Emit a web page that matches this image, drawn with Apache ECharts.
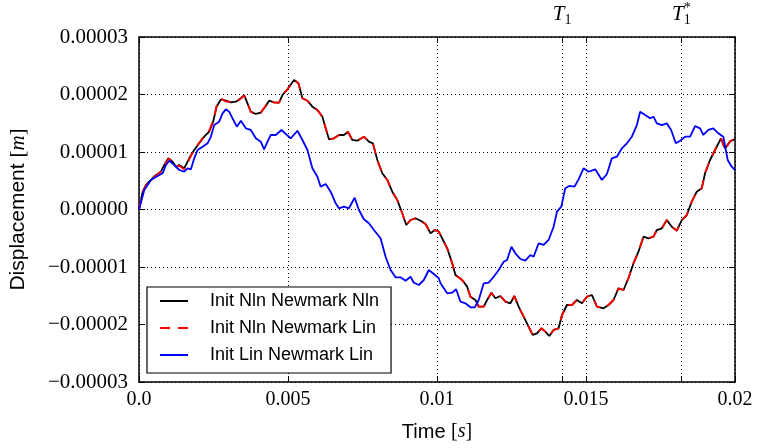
<!DOCTYPE html>
<html><head><meta charset="utf-8">
<script src="https://cdn.jsdelivr.net/npm/echarts@6/dist/echarts.min.js"></script>
<style>html,body{margin:0;padding:0;background:#fff}#c{width:759px;height:448px}</style>
</head><body><div id="c"></div>
<script>
// time in ms, displacement in 1e-5 m
const nlnNewmarkNln = [[0,0],[0.124,0.310],[0.235,0.426],[0.402,0.513],[0.570,0.600],[0.737,0.657],[0.848,0.774],[0.982,0.890],[1.129,0.831],[1.240,0.744],[1.350,0.774],[1.518,0.716],[1.685,0.890],[1.853,1.035],[2.020,1.151],[2.188,1.266],[2.355,1.353],[2.489,1.527],[2.603,1.788],[2.747,1.916],[2.915,1.892],[3.082,1.864],[3.250,1.875],[3.417,1.934],[3.528,1.991],[3.641,1.847],[3.752,1.701],[3.920,1.661],[4.087,1.683],[4.255,1.800],[4.365,1.892],[4.533,1.864],[4.700,1.857],[4.814,1.991],[4.981,2.090],[5.203,2.252],[5.350,2.195],[5.484,1.934],[5.652,1.892],[5.819,1.788],[5.987,1.730],[6.154,1.614],[6.265,1.412],[6.375,1.221],[6.543,1.238],[6.710,1.296],[6.878,1.296],[7.012,1.353],[7.159,1.209],[7.327,1.196],[7.548,1.266],[7.715,1.179],[7.849,1.151],[7.997,0.861],[8.164,0.630],[8.332,0.513],[8.499,0.310],[8.667,0.165],[8.834,-0.066],[8.968,-0.270],[9.112,-0.183],[9.280,-0.153],[9.447,-0.195],[9.615,-0.252],[9.782,-0.414],[9.926,-0.356],[10.060,-0.386],[10.342,-0.675],[10.509,-0.936],[10.620,-1.139],[10.844,-1.226],[11.012,-1.342],[11.122,-1.516],[11.290,-1.574],[11.400,-1.690],[11.568,-1.690],[11.682,-1.574],[11.826,-1.447],[11.960,-1.544],[12.127,-1.504],[12.295,-1.603],[12.462,-1.631],[12.596,-1.504],[12.740,-1.690],[12.908,-1.864],[13.075,-2.038],[13.209,-2.182],[13.357,-2.153],[13.501,-2.066],[13.635,-2.125],[13.769,-2.200],[13.913,-2.095],[14.080,-2.066],[14.194,-1.835],[14.361,-1.661],[14.529,-1.661],[14.696,-1.574],[14.864,-1.631],[15.031,-1.516],[15.199,-1.487],[15.366,-1.690],[15.588,-1.718],[15.755,-1.661],[15.923,-1.574],[16.090,-1.370],[16.258,-1.400],[16.425,-1.196],[16.593,-0.936],[16.760,-0.734],[16.928,-0.473],[17.095,-0.501],[17.263,-0.473],[17.377,-0.357],[17.544,-0.327],[17.712,-0.183],[17.879,-0.299],[18.047,-0.369],[18.214,-0.183],[18.382,-0.096],[18.549,0.136],[18.717,0.310],[18.884,0.369],[18.995,0.630],[19.162,0.861],[19.330,1.035],[19.531,1.238],[19.665,1.064],[19.832,1.179],[20.0,1.226]];

const nlnNewmarkLin = [[0,0],[0.124,0.305],[0.235,0.420],[0.402,0.513],[0.570,0.590],[0.737,0.660],[0.848,0.760],[0.982,0.880],[1.129,0.840],[1.240,0.750],[1.350,0.760],[1.518,0.700],[1.685,0.870],[1.853,1.050],[2.020,1.160],[2.188,1.280],[2.355,1.370],[2.489,1.540],[2.603,1.800],[2.747,1.930],[2.915,1.880],[3.082,1.870],[3.250,1.870],[3.417,1.930],[3.528,1.980],[3.641,1.850],[3.752,1.700],[3.920,1.650],[4.087,1.690],[4.255,1.810],[4.365,1.890],[4.533,1.860],[4.700,1.857],[4.814,1.991],[4.981,2.090],[5.203,2.252],[5.350,2.195],[5.484,1.934],[5.652,1.892],[5.819,1.788],[5.987,1.730],[6.154,1.614],[6.265,1.412],[6.375,1.221],[6.543,1.238],[6.710,1.296],[6.878,1.296],[7.012,1.353],[7.159,1.209],[7.327,1.196],[7.548,1.266],[7.715,1.179],[7.849,1.151],[7.997,0.861],[8.164,0.630],[8.332,0.513],[8.499,0.310],[8.667,0.165],[8.834,-0.066],[8.968,-0.270],[9.112,-0.183],[9.280,-0.153],[9.447,-0.195],[9.615,-0.252],[9.782,-0.414],[9.926,-0.356],[10.060,-0.386],[10.342,-0.675],[10.509,-0.936],[10.620,-1.139],[10.844,-1.226],[11.012,-1.342],[11.122,-1.516],[11.290,-1.574],[11.400,-1.690],[11.568,-1.690],[11.682,-1.574],[11.826,-1.447],[11.960,-1.544],[12.127,-1.504],[12.295,-1.603],[12.462,-1.631],[12.596,-1.504],[12.740,-1.690],[12.908,-1.864],[13.075,-2.038],[13.209,-2.182],[13.357,-2.153],[13.501,-2.066],[13.635,-2.125],[13.769,-2.200],[13.913,-2.095],[14.080,-2.066],[14.194,-1.835],[14.361,-1.661],[14.529,-1.661],[14.696,-1.574],[14.864,-1.631],[15.031,-1.516],[15.199,-1.487],[15.366,-1.690],[15.588,-1.718],[15.755,-1.661],[15.923,-1.574],[16.090,-1.370],[16.258,-1.400],[16.425,-1.196],[16.593,-0.936],[16.760,-0.734],[16.928,-0.473],[17.095,-0.501],[17.263,-0.473],[17.377,-0.357],[17.544,-0.327],[17.712,-0.183],[17.879,-0.299],[18.047,-0.369],[18.214,-0.183],[18.382,-0.096],[18.549,0.136],[18.717,0.310],[18.884,0.369],[18.995,0.630],[19.162,0.861],[19.330,1.035],[19.531,1.238],[19.665,1.030],[19.832,1.190],[20.0,1.226]];

const linNewmarkLin = [[0,0],[0.178,0.339],[0.402,0.513],[0.626,0.583],[0.794,0.630],[0.905,0.774],[1.015,0.849],[1.182,0.774],[1.350,0.687],[1.518,0.657],[1.631,0.716],[1.742,0.699],[1.853,0.890],[1.966,1.035],[2.134,1.092],[2.302,1.151],[2.412,1.266],[2.523,1.469],[2.690,1.527],[2.804,1.673],[2.915,1.742],[3.025,1.701],[3.139,1.586],[3.283,1.440],[3.417,1.544],[3.585,1.412],[3.752,1.383],[3.920,1.238],[4.087,1.179],[4.198,1.047],[4.312,1.179],[4.422,1.296],[4.590,1.296],[4.781,1.383],[4.925,1.313],[5.092,1.238],[5.317,1.370],[5.484,1.209],[5.652,1.035],[5.819,0.716],[5.987,0.570],[6.097,0.397],[6.265,0.443],[6.432,0.310],[6.600,0.108],[6.710,0.021],[6.878,0.049],[7.045,0.021],[7.236,0.205],[7.380,-0.009],[7.548,-0.170],[7.715,-0.240],[7.883,-0.357],[8.107,-0.501],[8.275,-0.821],[8.442,-1.052],[8.610,-1.179],[8.777,-1.179],[8.945,-1.238],[9.112,-1.169],[9.223,-1.273],[9.391,-1.313],[9.558,-1.226],[9.726,-1.052],[9.893,-1.122],[10.060,-1.196],[10.117,-1.283],[10.342,-1.457],[10.509,-1.447],[10.643,-1.388],[10.787,-1.603],[10.955,-1.631],[11.122,-1.701],[11.266,-1.701],[11.400,-1.574],[11.568,-1.283],[11.735,-1.273],[11.903,-1.169],[12.070,-1.052],[12.238,-0.908],[12.352,-0.878],[12.496,-0.647],[12.630,-0.762],[12.797,-0.861],[12.965,-0.890],[13.132,-0.791],[13.243,-0.821],[13.410,-0.588],[13.578,-0.617],[13.745,-0.530],[13.913,-0.299],[14.027,-0.038],[14.171,0.049],[14.305,0.369],[14.439,0.409],[14.616,0.397],[14.750,0.525],[14.918,0.716],[15.085,0.657],[15.310,0.699],[15.534,0.513],[15.702,0.617],[15.869,0.890],[16.037,0.918],[16.204,1.064],[16.372,1.151],[16.539,1.266],[16.707,1.469],[16.817,1.701],[16.985,1.643],[17.152,1.586],[17.263,1.614],[17.377,1.499],[17.544,1.469],[17.712,1.499],[17.856,1.383],[18.013,1.151],[18.157,1.196],[18.325,1.266],[18.492,1.266],[18.660,1.452],[18.827,1.412],[18.938,1.296],[19.106,1.383],[19.273,1.412],[19.441,1.325],[19.608,1.266],[19.756,0.861],[19.889,0.744],[20.0,0.687]];

const seriesNames = ['Init Nln Newmark Nln', 'Init Nln Newmark Lin', 'Init Lin Newmark Lin'];
const xTicks = [0, 0.005, 0.01, 0.015, 0.02];
const yTicks = [-0.00003, -0.00002, -0.00001, 0, 0.00001, 0.00002, 0.00003];
const T1 = 0.0142;
const T1star = 0.0182;

const toSI = arr => arr.map(p => [p[0] * 1e-3, p[1] * 1e-5]);
const serif = 'Liberation Serif';
const sans = 'Liberation Sans';
const tickVals = [0, 0.005, 0.01, T1, 0.015, T1star, 0.02];
const grid = {type: [1, 3], color: '#000', width: 1};

const chart = echarts.init(document.getElementById('c'));
chart.setOption({
  animation: false,
  backgroundColor: '#fff',
  grid: {left: 138, right: 24, top: 37, bottom: 66},
  xAxis: [{
    type: 'value', min: 0, max: 0.02, interval: 0.005, position: 'bottom',
    axisLine: {show: true, onZero: false, lineStyle: {color: '#000', width: 1.5}},
    axisTick: {show: true, inside: true, length: 6, customValues: tickVals, lineStyle: {color: '#000'}},
    axisLabel: {customValues: xTicks, margin: 8, color: '#000', fontFamily: serif, fontSize: 20,
      formatter: v => v === 0 ? '0.0' : String(+v.toFixed(4))},
    splitLine: {show: true, lineStyle: grid},
    name: '{a|Time }{b|[}{c|s}{b|]}', nameLocation: 'middle', nameGap: 40,
    nameTextStyle: {rich: {
      a: {fontFamily: sans, fontSize: 20, color: '#000'},
      b: {fontFamily: serif, fontSize: 20, color: '#000'},
      c: {fontFamily: serif, fontStyle: 'italic', fontSize: 20, color: '#000'}}}
  }, {
    type: 'value', min: 0, max: 0.02, interval: 0.005, position: 'top',
    axisLine: {show: true, onZero: false, lineStyle: {color: '#000', width: 1.5}},
    axisTick: {show: true, inside: true, length: 6, customValues: tickVals, lineStyle: {color: '#000'}},
    axisLabel: {show: true, customValues: [T1, T1star], margin: 10, color: '#000',
      formatter: v => Math.abs(v - T1) < 1e-9 ? '{t|T}{s|1}' : '{t|T}{s|1}{p|*}',
      rich: {
        t: {fontFamily: serif, fontStyle: 'italic', fontSize: 21, color: '#000', verticalAlign: 'middle', lineHeight: 26},
        s: {fontFamily: serif, fontSize: 14, color: '#000', verticalAlign: 'bottom', lineHeight: 22},
        p: {fontFamily: serif, fontSize: 14, color: '#000', verticalAlign: 'top', lineHeight: 26, padding: [0, 0, 0, -7]}
      }},
    splitLine: {show: false}
  }],
  yAxis: [{
    type: 'value', min: -0.00003, max: 0.00003, interval: 0.00001, position: 'left',
    axisLine: {show: true, onZero: false, lineStyle: {color: '#000', width: 1.5}},
    axisTick: {show: true, inside: true, length: 6, lineStyle: {color: '#000'}},
    axisLabel: {margin: 11, color: '#000', fontFamily: serif, fontSize: 21,
      formatter: v => { const k = Math.round(v * 1e5); return (k < 0 ? '\u2212' : '') + '0.0000' + Math.abs(k); }},
    splitLine: {show: true, lineStyle: grid},
    name: '{a|Displacement }{b|[}{c|m}{b|]}', nameLocation: 'middle', nameGap: 110, nameRotate: 90,
    nameTextStyle: {rich: {
      a: {fontFamily: sans, fontSize: 21, color: '#000'},
      b: {fontFamily: serif, fontSize: 21, color: '#000'},
      c: {fontFamily: serif, fontStyle: 'italic', fontSize: 21, color: '#000'}}}
  }, {
    type: 'value', min: -0.00003, max: 0.00003, interval: 0.00001, position: 'right',
    axisLine: {show: true, onZero: false, lineStyle: {color: '#000', width: 1.5}},
    axisTick: {show: true, inside: true, length: 6, lineStyle: {color: '#000'}},
    axisLabel: {show: false}, splitLine: {show: false}
  }],
  legend: {
    orient: 'vertical', left: 147, top: 287,
    backgroundColor: '#fff', borderColor: '#000', borderWidth: 1.2, borderRadius: 0,
    padding: [4, 12, 8, 12], itemGap: 7, itemWidth: 28, itemHeight: 12,
    itemStyle: {opacity: 0},
    textStyle: {fontFamily: sans, fontSize: 18, color: '#000', lineHeight: 20, padding: [0, 0, 0, 17]},
    data: seriesNames
  },
  series: [
    {name: seriesNames[0], type: 'line', data: toSI(nlnNewmarkNln), showSymbol: false, symbol: 'none',
      lineStyle: {color: '#000', width: 1.8}, itemStyle: {color: '#000'}, z: 2},
    {name: seriesNames[1], type: 'line', data: toSI(nlnNewmarkLin), showSymbol: false, symbol: 'none',
      lineStyle: {color: '#f00', width: 1.8, type: [10, 8]}, itemStyle: {color: '#f00'}, z: 3},
    {name: seriesNames[2], type: 'line', data: toSI(linNewmarkLin), showSymbol: false, symbol: 'none',
      lineStyle: {color: '#00f', width: 1.8}, itemStyle: {color: '#00f'}, z: 4}
  ]
});
</script></body></html>
